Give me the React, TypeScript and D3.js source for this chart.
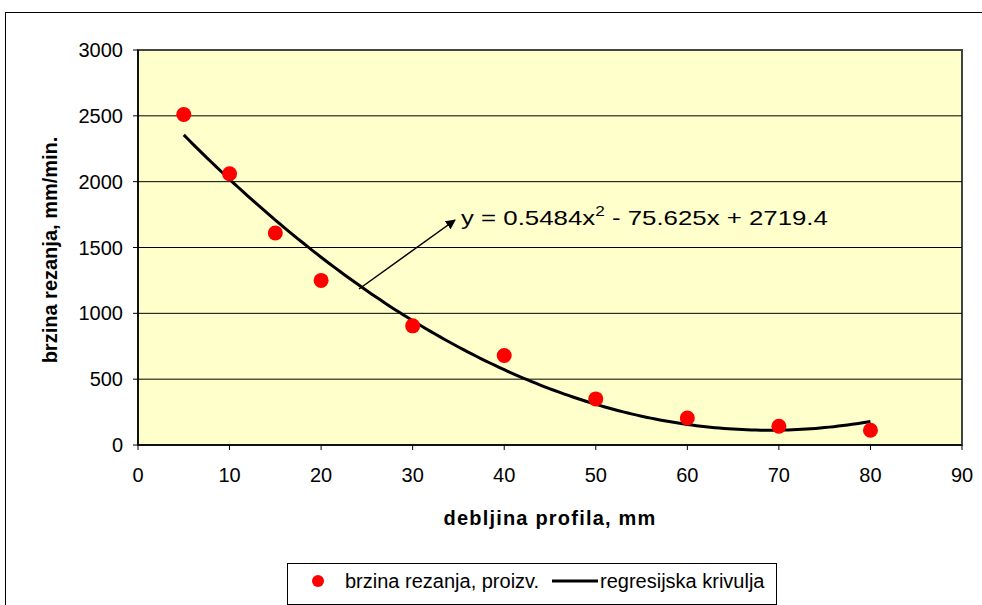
import React from "react";
import * as d3 from "d3";

const xValues = [5, 10, 15, 20, 30, 40, 50, 60, 70, 80];
const yValues = [2510, 2060, 1610, 1250, 905, 680, 350, 205, 142, 112];
const coeffs = [0.5484, -75.625, 2719.4];
const xTicks = [0, 10, 20, 30, 40, 50, 60, 70, 80, 90];
const yTicks = [0, 500, 1000, 1500, 2000, 2500, 3000];
const xTitle = "debljina profila, mm";
const yTitle = "brzina rezanja, mm/min.";
const legendLabels = ["brzina rezanja, proizv.", "regresijska krivulja"];

export default function App() {
  const W = 982, H = 605;
  const x = d3.scaleLinear().domain([0, 90]).range([138, 962]);
  const y = d3.scaleLinear().domain([0, 3000]).range([445, 50]);
  const f = (t: number) => coeffs[0] * t * t + coeffs[1] * t + coeffs[2];
  const xs = d3.range(5, 80.001, 0.5);
  const line = d3.line<number>().x((t) => x(t)).y((t) => y(f(t)));
  const font = "'Liberation Sans', Arial, sans-serif";
  return (
    <svg width={W} height={H} style={{ position: "absolute", left: 0, top: 0 }} fontFamily={font}>
      <defs>
        <marker id="ah" viewBox="0 0 10 10" refX="9" refY="5" markerWidth="10" markerHeight="10" orient="auto" markerUnits="userSpaceOnUse">
          <path d="M0,0 L10,5 L0,10 z" fill="#000" />
        </marker>
      </defs>
      <rect x={0} y={0} width={W} height={H} fill="#fff" />
      <rect x={5.5} y={12.5} width={1000} height={700} fill="none" stroke="#000" strokeWidth={1} />
      <rect x={x(0)} y={y(3000)} width={x(90) - x(0)} height={y(0) - y(3000)} fill="#FFFFCC" stroke="#444" strokeWidth={2} />
      {yTicks.filter((v) => v > 0 && v < 3000).map((v) => (
        <line key={v} x1={x(0)} x2={x(90)} y1={y(v)} y2={y(v)} stroke="#000" strokeWidth={1} />
      ))}
      <line x1={x(0)} x2={x(0)} y1={y(0)} y2={y(3000)} stroke="#000" strokeWidth={1.5} />
      <line x1={x(0)} x2={x(90)} y1={y(0)} y2={y(0)} stroke="#000" strokeWidth={1.5} />
      {yTicks.map((v) => (
        <g key={v}>
          <line x1={x(0) - 5} x2={x(0)} y1={y(v)} y2={y(v)} stroke="#000" />
          <text x={123} y={y(v) + 7} textAnchor="end" fontSize={20}>{v}</text>
        </g>
      ))}
      {xTicks.map((v) => (
        <g key={v}>
          <line x1={x(v)} x2={x(v)} y1={y(0)} y2={y(0) + 5} stroke="#000" />
          <text x={x(v)} y={482} textAnchor="middle" fontSize={20}>{v}</text>
        </g>
      ))}
      <text x={550} y={525} textAnchor="middle" fontSize={20} fontWeight="bold" letterSpacing={1.2}>{xTitle}</text>
      <text transform={`translate(57,250) rotate(-90)`} textAnchor="middle" fontSize={20} fontWeight="bold">{yTitle}</text>
      <path d={line(xs) || ""} fill="none" stroke="#000" strokeWidth={3} />
      {xValues.map((v, i) => (
        <circle key={i} cx={x(v)} cy={y(yValues[i])} r={7.5} fill="#FF0000" />
      ))}
      <line x1={359} y1={289} x2={455} y2={220} stroke="#000" strokeWidth={1.5} markerEnd="url(#ah)" />
      <g transform="translate(461,225) scale(1.23,1)">
        <text x={0} y={0} fontSize={21}>
          y = {coeffs[0]}x<tspan dy={-9} fontSize={14}>2</tspan><tspan dy={9}> - {Math.abs(coeffs[1])}x + {coeffs[2]}</tspan>
        </text>
      </g>
      <rect x={287.5} y={563.5} width={489} height={41} fill="#fff" stroke="#000" strokeWidth={1} />
      <circle cx={318} cy={581} r={6} fill="#FF0000" />
      <text x={345} y={588} fontSize={20}>{legendLabels[0]}</text>
      <line x1={552} x2={598} y1={581} y2={581} stroke="#000" strokeWidth={3} />
      <text x={600} y={588} fontSize={20}>{legendLabels[1]}</text>
    </svg>
  );
}
